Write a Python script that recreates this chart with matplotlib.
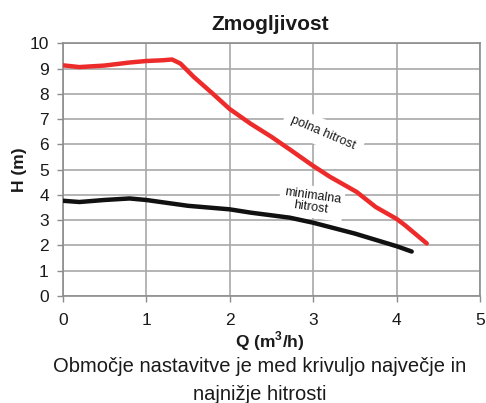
import matplotlib
matplotlib.use("Agg")
import matplotlib.pyplot as plt

# Pump performance curves: head H (m) versus flow Q (m3/h)
q_full = [0.0, 0.2, 0.5, 0.8, 1.0, 1.2, 1.31, 1.41, 1.57, 1.8, 2.0, 2.25, 2.5, 2.72, 3.0, 3.2, 3.52, 3.75, 4.0, 4.1, 4.36]
h_full = [9.13, 9.06, 9.12, 9.24, 9.3, 9.33, 9.36, 9.2, 8.67, 8.0, 7.4, 6.82, 6.3, 5.8, 5.15, 4.72, 4.12, 3.52, 3.05, 2.8, 2.08]

q_min = [0.0, 0.2, 0.5, 0.8, 1.0, 1.5, 2.0, 2.25, 2.72, 3.0, 3.5, 4.0, 4.18]
h_min = [3.77, 3.72, 3.8, 3.86, 3.8, 3.57, 3.43, 3.3, 3.1, 2.9, 2.47, 1.97, 1.76]

x_ticks = [0, 1, 2, 3, 4, 5]
y_ticks = [0, 1, 2, 3, 4, 5, 6, 7, 8, 9, 10]

title = "Zmogljivost"
x_label = "Q (m$^\\mathbf{3}$/h)"
y_label = "H (m)"
label_full = "polna hitrost"
label_min = "minimalna\nhitrost"
caption_lines = ["Območje nastavitve je med krivuljo največje in",
                 "najnižje hitrosti"]

plt.rcParams["font.family"] = ["Liberation Sans", "DejaVu Sans"]
plt.rcParams["mathtext.fontset"] = "custom"
plt.rcParams["mathtext.bf"] = "Liberation Sans:bold"
plt.rcParams["mathtext.rm"] = "Liberation Sans"

fig = plt.figure(figsize=(4.86, 4.03), dpi=100)
ax = fig.add_axes([0.129, 0.2655, 0.859, 0.627])

ax.plot(q_full, h_full, color="#ee2b2b", lw=3.2, solid_capstyle="round",
        solid_joinstyle="round", zorder=3)
ax.plot(q_min, h_min, color="#111111", lw=3.2, solid_capstyle="round",
        solid_joinstyle="round", zorder=3)

ax.set_xlim(0, 5)
ax.set_ylim(0, 10)
ax.set_xticks(x_ticks)
ax.set_yticks(y_ticks)
ax.grid(True, color="#a8a8a8", lw=1.2)
ax.set_axisbelow(True)
for s in ax.spines.values():
    s.set_color("#8c8c8c")
    s.set_linewidth(1.2)
ax.tick_params(axis="both", colors="#8c8c8c", length=4, width=1.0,
               labelcolor="#1a1a1a", labelsize=12.5)
ax.tick_params(axis="x", pad=8)
ax.tick_params(axis="y", pad=6)

ax.text(3.12, 6.44, label_full, rotation=-23, fontsize=9, ha="center", va="center",
        color="#1a1a1a", zorder=4,
        bbox=dict(boxstyle="square,pad=0.6", fc="white", ec="none"))
ax.text(2.98, 3.73, label_min, rotation=-8, fontsize=9, ha="center", va="center",
        color="#1a1a1a", zorder=4, linespacing=1.05,
        bbox=dict(boxstyle="square,pad=0.3", fc="white", ec="none"))

fig.text(0.556, 0.94, title, fontsize=15, fontweight="bold", ha="center", va="center",
         color="#1a1a1a")
fig.text(0.04, 0.58, y_label, fontsize=12.5, fontweight="bold", rotation=90,
         ha="center", va="center", color="#1a1a1a")
fig.text(0.556, 0.139, x_label, fontsize=12.5, fontweight="bold", ha="center",
         va="baseline", color="#1a1a1a")
for y, line in zip([0.0769, 0.008], caption_lines):
    fig.text(0.535, y, line, fontsize=14.5, ha="center", va="baseline",
             color="#1a1a1a")

fig.savefig("out.png", dpi=100)
